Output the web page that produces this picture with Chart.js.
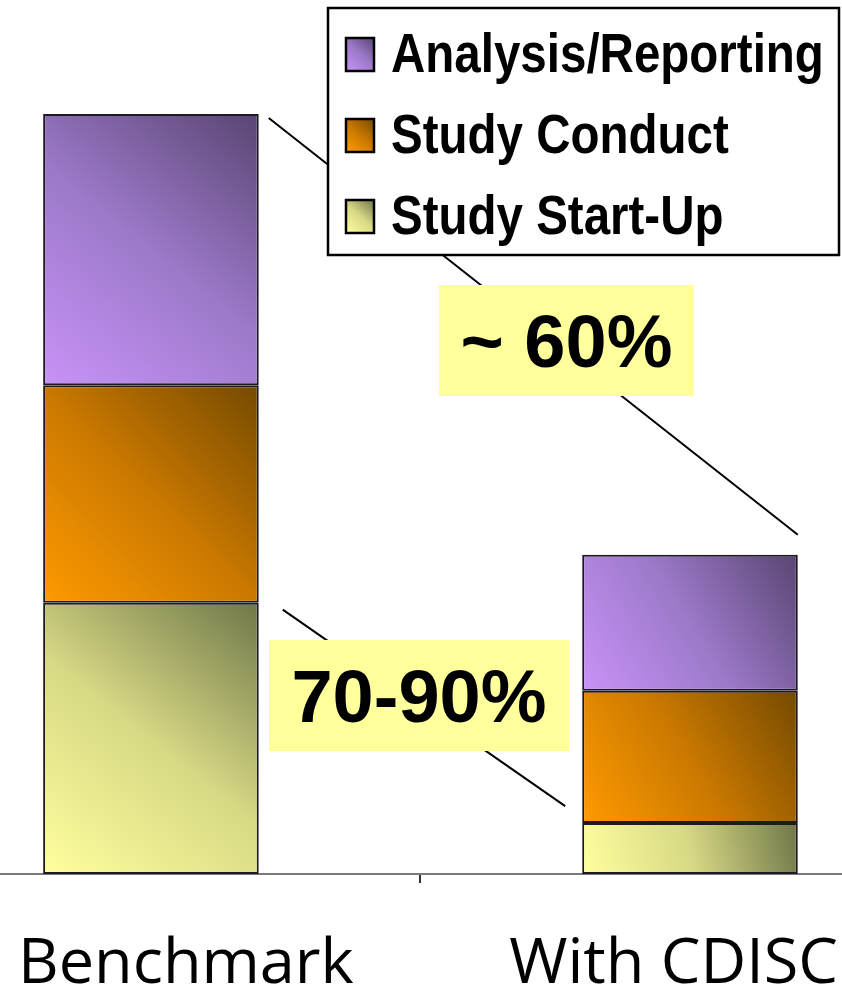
<!DOCTYPE html>
<html>
<head>
<meta charset="utf-8">
<script src="https://cdn.jsdelivr.net/npm/chart.js@4.4.1/dist/chart.umd.min.js"></script>
<style>
  html, body { margin: 0; padding: 0; background: #fff; }
  #wrap { width: 842px; height: 987px; }
</style>
</head>
<body>
<div id="wrap"><canvas id="chart" width="842" height="987"></canvas></div>
<script>
// data (benchmark total = 100)
var categories = ['Benchmark', 'With CDISC'];
var phases = ['Study Start-Up', 'Study Conduct', 'Analysis/Reporting'];
var startUp = [35.7, 6.7];
var conduct = [28.6, 17.4];
var analysis = [35.7, 17.9];
var callouts = ['~ 60%', '70-90%'];

// light (bottom-left) -> dark (top-right)
var shades = [
    ['#FFFF9E', '#D6D884', '#6F7648'],
    ['#FF9A00', '#C97800', '#744A00'],
    ['#C893F7', '#9C79C9', '#594572']
];

var series = [startUp, conduct, analysis];

var datasets = series.map(function(vals, i) {
    return {
        label: phases[i],
        data: vals.map(function(v, j) { return { x: j + 1, y: v }; }),
        backgroundColor: shades[i][1],
        borderColor: '#1e1a24',
        borderWidth: 2,
        borderSkipped: false,
        barPercentage: 0.4,
        categoryPercentage: 1
    };
});

function diagGradient(ctx, l, b, r, t, cols) {
    var g = ctx.createLinearGradient(l, b, r, t);
    g.addColorStop(0, cols[0]);
    g.addColorStop(0.5, cols[1]);
    g.addColorStop(1, cols[2]);
    return g;
}

var gradientBars = {
    id: 'gradientBars',
    beforeDatasetsDraw: function(chart) {
        var ctx = chart.ctx;
        chart.data.datasets.forEach(function(ds, i) {
            chart.getDatasetMeta(i).data.forEach(function(bar) {
                var p = bar.getProps(['x', 'y', 'base', 'width'], true);
                var g = diagGradient(ctx, p.x - p.width / 2, p.base, p.x + p.width / 2, p.y, shades[i]);
                bar.options = Object.assign({}, bar.options, { backgroundColor: g });
            });
        });
    }
};

var extras = {
    id: 'extras',
    afterDraw: function(chart) {
        var ctx = chart.ctx;
        var bottom = chart.getDatasetMeta(0).data;
        var top = chart.getDatasetMeta(2).data;
        function edge(bar, side) { return bar.x + side * bar.width / 2; }

        ctx.save();
        // connector lines
        ctx.strokeStyle = '#000';
        ctx.lineWidth = 2;
        ctx.beginPath();
        ctx.moveTo(edge(top[0], 1) + 10, top[0].y + 4);
        ctx.lineTo(edge(top[1], 1), top[1].y - 20);
        ctx.moveTo(edge(bottom[0], 1) + 24, bottom[0].y + 7);
        ctx.lineTo(edge(bottom[1], -1) - 17, bottom[1].y - 17);
        ctx.stroke();

        // yellow callouts
        var boxes = [[439, 285, 255, 111], [269, 640, 300, 111]];
        ctx.font = 'bold 74px "Liberation Sans", Arial, sans-serif';
        ctx.textAlign = 'center';
        ctx.textBaseline = 'alphabetic';
        boxes.forEach(function(b, k) {
            ctx.fillStyle = '#FFFF9C';
            ctx.fillRect(b[0], b[1], b[2], b[3]);
            ctx.fillStyle = '#000';
            ctx.fillText(callouts[k], b[0] + b[2] / 2, b[1] + b[3] / 2 + 26);
        });

        // legend box
        ctx.fillStyle = '#fff';
        ctx.fillRect(328, 8, 511, 247);
        ctx.lineWidth = 2.5;
        ctx.strokeStyle = '#000';
        ctx.strokeRect(328, 8, 511, 247);
        ctx.textAlign = 'left';
        ctx.font = 'bold 47.5px "Liberation Sans", Arial, sans-serif';
        for (var k = 0; k < phases.length; k++) {
            var idx = phases.length - 1 - k;
            var cy = 54 + k * 81;
            ctx.fillStyle = diagGradient(ctx, 346, cy + 16, 374, cy - 16, shades[idx]);
            ctx.fillRect(346, cy - 16, 28, 33);
            ctx.lineWidth = 2.5;
            ctx.strokeRect(346, cy - 16, 28, 33);
            ctx.save();
            ctx.scale(1, 1.17);
            ctx.fillStyle = '#000';
            ctx.fillText(phases[idx], 391, (cy + 18) / 1.17);
            ctx.restore();
        }

        // category labels, kept inside the canvas
        ctx.font = '63px "Open Sans", sans-serif';
        ctx.fillStyle = '#000';
        ctx.textAlign = 'left';
        categories.forEach(function(c, j) {
            var w = ctx.measureText(c).width;
            var left = bottom[j].x - w / 2;
            left = Math.max(18, Math.min(left, chart.width - 4 - w));
            ctx.fillText(c, left, 983);
        });
        ctx.restore();
    }
};

new Chart(document.getElementById('chart'), {
    type: 'bar',
    data: { datasets: datasets },
    options: {
        responsive: false,
        animation: false,
        devicePixelRatio: 1,
        layout: { padding: { top: 0, left: 0, right: 0, bottom: 104 } },
        plugins: {
            legend: { display: false },
            tooltip: { enabled: false }
        },
        scales: {
            x: {
                type: 'linear',
                stacked: true,
                offset: false,
                min: 0.72,
                max: 2.282,
                afterBuildTicks: function(scale) { scale.ticks = [{ value: 1.5 }]; },
                ticks: { display: false },
                grid: { offset: false, drawOnChartArea: false, drawTicks: true, tickLength: 9, color: '#333', lineWidth: 2 },
                border: { display: true, color: '#7a7a7a', width: 2 }
            },
            y: {
                stacked: true,
                min: 0,
                max: 115,
                display: false
            }
        }
    },
    plugins: [gradientBars, extras]
});
</script>
</body>
</html>
